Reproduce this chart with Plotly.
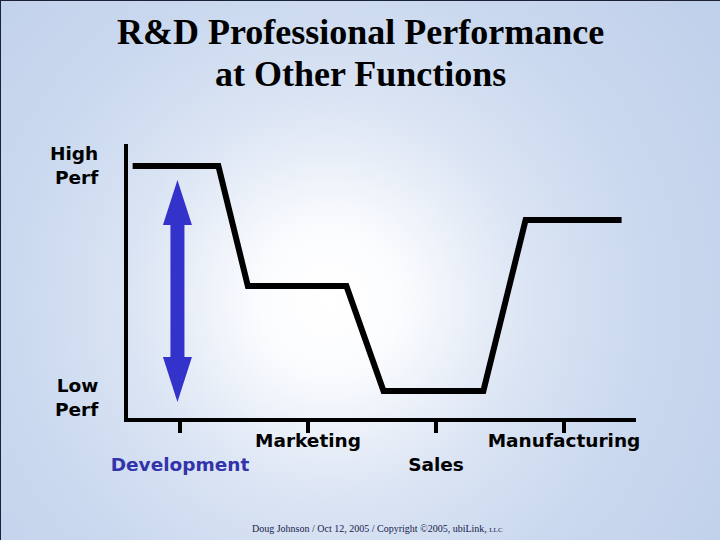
import base64
import plotly.graph_objects as go

# ---- data ----
categories = ["Development", "Marketing", "Sales", "Manufacturing"]
category_x = [0, 1, 2, 3]
category_colors = ["#3333aa", "#000000", "#000000", "#000000"]
category_row = [2, 1, 2, 1]          # staggered label rows
perf_ticks = [0, 10]
perf_labels = ["Low<br>Perf", "High<br>Perf"]

line_x = [-0.37, 0.30, 0.53, 1.30, 1.59, 2.37, 2.70, 3.45]
line_y = [10, 10, 4.83, 4.83, 0.30, 0.30, 7.67, 7.67]

arrow_x = -0.02      # arrow sits over "Development"
arrow_mid_y = 4.61   # centre of the double arrow (performance units)

title_lines = ["R&amp;D Professional Performance", "at Other Functions"]
footer = ("Doug Johnson / Oct 12, 2005 / Copyright \u00a92005, ubiLink, "
          "<span style='font-size:7px'>LLC</span>")

# ---- background gradient (radial) ----
svg = ("<svg xmlns='http://www.w3.org/2000/svg' width='720' height='540'>"
       "<defs><radialGradient id='g' gradientUnits='userSpaceOnUse' cx='330' cy='300' r='460'>"
       "<stop offset='0' stop-color='#ffffff'/>"
       "<stop offset='0.15' stop-color='#fbfcfe'/>"
       "<stop offset='0.45' stop-color='#d9e3f3'/>"
       "<stop offset='0.68' stop-color='#cbd9ef'/>"
       "<stop offset='1' stop-color='#c2d1eb'/>"
       "</radialGradient></defs>"
       "<rect width='720' height='540' fill='url(#g)'/></svg>")
bg_uri = "data:image/svg+xml;base64," + base64.b64encode(svg.encode()).decode()

ticktext = []
for name, color, row in zip(categories, category_colors, category_row):
    lbl = f"<span style='color:{color}'>{name}</span>"
    ticktext.append(("<br>" + lbl) if row == 2 else lbl)

fig = go.Figure()
fig.add_trace(go.Scatter(x=line_x, y=line_y, mode="lines",
                         line=dict(color="black", width=6),
                         hoverinfo="skip", showlegend=False))

W, H = 720, 540
fig.update_layout(
    width=W, height=H,
    margin=dict(l=0, r=0, t=0, b=0),
    paper_bgcolor="#c3d2ec",
    plot_bgcolor="rgba(0,0,0,0)",
    showlegend=False,
    xaxis=dict(domain=[128 / W, 636 / W], range=[-0.40625, 3.5625],
               showgrid=False, zeroline=False,
               showline=True, linecolor="black", linewidth=4,
               ticks="outside", ticklen=11, tickwidth=4, tickcolor="black",
               tickmode="array", tickvals=category_x, ticktext=ticktext,
               ticklabelstandoff=-8,
               tickfont=dict(family="DejaVu Sans", size=18.5, color="black", weight="bold"),
               automargin=False, fixedrange=True),
    yaxis=dict(domain=[1 - 418 / H, 1 - 144 / H], range=[-0.862, 10.948],
               showgrid=False, zeroline=False,
               showline=True, linecolor="black", linewidth=4,
               ticks="", tickmode="array", tickvals=perf_ticks, ticktext=perf_labels,
               ticklabelstandoff=22,
               tickfont=dict(family="DejaVu Sans", size=18.5, color="black", weight="bold"),
               automargin=False, fixedrange=True),
    images=[dict(source=bg_uri, xref="paper", yref="paper", x=0, y=1,
                 sizex=1, sizey=1, xanchor="left", yanchor="top",
                 sizing="stretch", layer="below")],
)

# double-headed blue arrow (pixel-sized, anchored on the data axes)
fig.add_shape(type="path", xref="x", yref="y",
              xsizemode="pixel", ysizemode="pixel",
              xanchor=arrow_x, yanchor=arrow_mid_y,
              path="M 0 111 L 14.5 66 L 7 66 L 7 -66 L 14.5 -66 L 0 -111 "
                   "L -14.5 -66 L -7 -66 L -7 66 L -14.5 66 Z",
              fillcolor="#3333cc", line=dict(width=0))

# slide edge lines
fig.add_shape(type="line", xref="paper", yref="paper", x0=0, x1=0, y0=0, y1=1,
              line=dict(color="#1c2236", width=2))
fig.add_shape(type="line", xref="paper", yref="paper", x0=0, x1=1, y0=1, y1=1,
              line=dict(color="#1c2236", width=2))

for text, ypx in zip(title_lines, [32, 74]):
    fig.add_annotation(text=f"<b>{text}</b>", xref="paper", yref="paper",
                       x=0.5, y=1 - ypx / H, xanchor="center", yanchor="middle",
                       showarrow=False,
                       font=dict(family="Liberation Serif", size=36, color="black"))

fig.add_annotation(text=footer, xref="paper", yref="paper",
                   x=377 / W, y=1 - 528 / H, xanchor="center", yanchor="middle",
                   showarrow=False,
                   font=dict(family="Liberation Serif", size=10, color="#16204a"))

fig.write_html("out.html", config={"displayModeBar": False},
               post_script="document.body.style.margin='0';")
